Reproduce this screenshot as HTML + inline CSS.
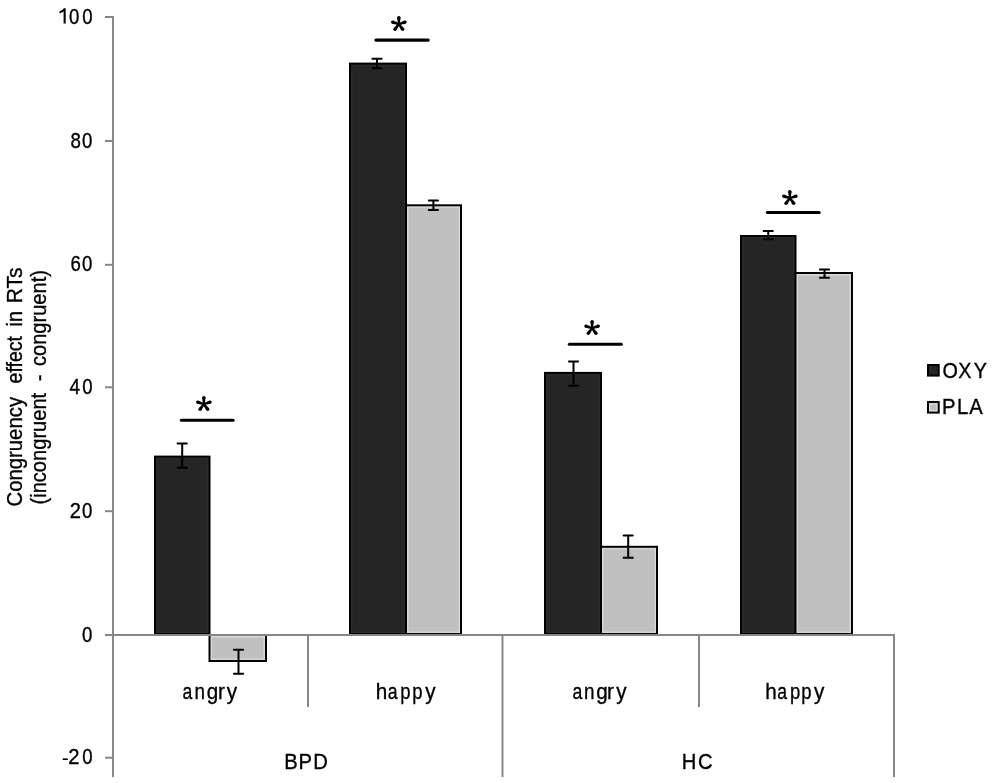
<!DOCTYPE html>
<html><head><meta charset="utf-8">
<style>
html,body{margin:0;padding:0;background:#fff;overflow:hidden;}
svg{display:block;filter:grayscale(1);}
text{font-family:"Liberation Sans",sans-serif;fill:#000;stroke:#000;stroke-width:0.35px;}
.lb{font-size:22px;letter-spacing:0.7px;}
.num{letter-spacing:0;}
.ttl{letter-spacing:0px;}
.lt{letter-spacing:0;}
.ast{font-size:44px;}
</style></head>
<body>
<svg width="992" height="783" viewBox="0 0 992 783">
<rect width="992" height="783" fill="#fff"/>
<g>
<path d="M65.7 8.30V23.60H63.6V11.20C62.6 12.10 61.1 12.90 59.5 13.40V11.40C61.4 10.60 62.9 9.50 63.9 8.30Z" fill="#000"/>
<text transform="translate(74.25,23.6) scale(0.846,1)" text-anchor="middle" class="lb num">0</text>
<text transform="translate(87.35,23.6) scale(0.846,1)" text-anchor="middle" class="lb num">0</text>
<text transform="translate(75.65,147.6) scale(0.853,1)" text-anchor="middle" class="lb num">8</text>
<text transform="translate(87.25,147.6) scale(0.846,1)" text-anchor="middle" class="lb num">0</text>
<text transform="translate(75.55,271.4) scale(0.847,1)" text-anchor="middle" class="lb num">6</text>
<text transform="translate(87.25,271.4) scale(0.846,1)" text-anchor="middle" class="lb num">0</text>
<text transform="translate(74.85,393.9) scale(0.866,1)" text-anchor="middle" class="lb num">4</text>
<text transform="translate(87.35,393.9) scale(0.846,1)" text-anchor="middle" class="lb num">0</text>
<text transform="translate(75.35,517.8) scale(0.92,1)" text-anchor="middle" class="lb num">2</text>
<text transform="translate(87.25,517.8) scale(0.846,1)" text-anchor="middle" class="lb num">0</text>
<text transform="translate(87.15,641.6) scale(0.846,1)" text-anchor="middle" class="lb num">0</text>
<rect x="62.7" y="758.40" width="5.1" height="1.6" fill="#000"/>
<text transform="translate(73.85,764.3) scale(0.92,1)" text-anchor="middle" class="lb num">2</text>
<text transform="translate(87.35,764.3) scale(0.846,1)" text-anchor="middle" class="lb num">0</text>
<text transform="translate(21.5,285.45) rotate(-90) scale(0.955,1)" text-anchor="middle" class="lb ttl">RTs</text>
<text transform="translate(21.5,318.8) rotate(-90) scale(0.9,1)" text-anchor="middle" class="lb ttl">in</text>
<text transform="translate(21.5,359.75) rotate(-90) scale(0.89,1)" text-anchor="middle" class="lb ttl">effect</text>
<text transform="translate(21.5,451.75) rotate(-90) scale(0.924,1)" text-anchor="middle" class="lb ttl">Congruency</text>
<text transform="translate(46,318.05) rotate(-90) scale(0.914,1)" text-anchor="middle" class="lb ttl">congruent)</text>
<text transform="translate(46,377.95) rotate(-90) scale(0.914,1)" text-anchor="middle" class="lb ttl">-</text>
<text transform="translate(46,448.65) rotate(-90) scale(0.914,1)" text-anchor="middle" class="lb ttl">(incongruent</text>
<text transform="translate(187.48,698.5) scale(0.8,1)" text-anchor="middle" class="lb lt">a</text>
<text transform="translate(199.84,698.5) scale(0.86,1)" text-anchor="middle" class="lb lt">n</text>
<text transform="translate(212.58,698.5) scale(0.94,1)" text-anchor="middle" class="lb lt">g</text>
<text transform="translate(221.49,698.5) scale(0.94,1)" text-anchor="middle" class="lb lt">r</text>
<text transform="translate(231.89,698.5) scale(0.94,1)" text-anchor="middle" class="lb lt">y</text>
<text transform="translate(381.45,698.5) scale(0.94,1)" text-anchor="middle" class="lb lt">h</text>
<text transform="translate(392.6,698.5) scale(0.8,1)" text-anchor="middle" class="lb lt">a</text>
<text transform="translate(405.29,698.5) scale(0.84,1)" text-anchor="middle" class="lb lt">p</text>
<text transform="translate(417.34,698.5) scale(0.84,1)" text-anchor="middle" class="lb lt">p</text>
<text transform="translate(430.44,698.5) scale(0.94,1)" text-anchor="middle" class="lb lt">y</text>
<text transform="translate(577.33,698.5) scale(0.8,1)" text-anchor="middle" class="lb lt">a</text>
<text transform="translate(589.14,698.5) scale(0.86,1)" text-anchor="middle" class="lb lt">n</text>
<text transform="translate(601.93,698.5) scale(0.94,1)" text-anchor="middle" class="lb lt">g</text>
<text transform="translate(610.54,698.5) scale(0.94,1)" text-anchor="middle" class="lb lt">r</text>
<text transform="translate(621.44,698.5) scale(0.94,1)" text-anchor="middle" class="lb lt">y</text>
<text transform="translate(770.9,698.5) scale(0.94,1)" text-anchor="middle" class="lb lt">h</text>
<text transform="translate(782.03,698.5) scale(0.8,1)" text-anchor="middle" class="lb lt">a</text>
<text transform="translate(795.04,698.5) scale(0.84,1)" text-anchor="middle" class="lb lt">p</text>
<text transform="translate(806.34,698.5) scale(0.84,1)" text-anchor="middle" class="lb lt">p</text>
<text transform="translate(819.24,698.5) scale(0.94,1)" text-anchor="middle" class="lb lt">y</text>
<text transform="translate(291.05,769) scale(0.92,1)" text-anchor="middle" class="lb lt">B</text>
<text transform="translate(305.35,769) scale(0.92,1)" text-anchor="middle" class="lb lt">P</text>
<text transform="translate(320.5,769) scale(0.92,1)" text-anchor="middle" class="lb lt">D</text>
<text transform="translate(689.1,769) scale(0.92,1)" text-anchor="middle" class="lb lt">H</text>
<text transform="translate(705.27,769) scale(0.92,1)" text-anchor="middle" class="lb lt">C</text>
<text transform="translate(950.3,378.2) scale(0.9,1)" text-anchor="middle" class="lb lt">O</text>
<text transform="translate(964.79,378.2) scale(0.9,1)" text-anchor="middle" class="lb lt">X</text>
<text transform="translate(980.4,378.2) scale(0.9,1)" text-anchor="middle" class="lb lt">Y</text>
<text transform="translate(948.75,413.6) scale(0.92,1)" text-anchor="middle" class="lb lt">P</text>
<text transform="translate(962.51,413.6) scale(0.92,1)" text-anchor="middle" class="lb lt">L</text>
<text transform="translate(976.05,413.6) scale(0.92,1)" text-anchor="middle" class="lb lt">A</text>
<rect x="154" y="455.6" width="56.5" height="179.39999999999998" fill="#000"/>
<rect x="156" y="457.6" width="52.5" height="175.39999999999998" fill="#2c2c2c"/>
<rect x="157.5" y="459.1" width="49.5" height="172.39999999999998" fill="#252525"/>
<rect x="208.5" y="634" width="58.5" height="28" fill="#000"/>
<rect x="210.5" y="636" width="54.5" height="24" fill="#d8d8d8"/>
<rect x="212.0" y="637.5" width="51.5" height="21.0" fill="#c0c0c0"/>
<rect x="349" y="62.6" width="58" height="572.4" fill="#000"/>
<rect x="351" y="64.6" width="54" height="568.4" fill="#2c2c2c"/>
<rect x="352.5" y="66.1" width="51.0" height="565.4" fill="#252525"/>
<rect x="405" y="204.3" width="57" height="430.7" fill="#000"/>
<rect x="407" y="206.3" width="53" height="426.7" fill="#d8d8d8"/>
<rect x="408.5" y="207.8" width="50.0" height="423.7" fill="#c0c0c0"/>
<rect x="544" y="371.9" width="58" height="263.1" fill="#000"/>
<rect x="546" y="373.9" width="54" height="259.1" fill="#2c2c2c"/>
<rect x="547.5" y="375.4" width="51.0" height="256.1" fill="#252525"/>
<rect x="600" y="545.8" width="58" height="89.20000000000005" fill="#000"/>
<rect x="602" y="547.8" width="54" height="85.20000000000005" fill="#d8d8d8"/>
<rect x="603.5" y="549.3" width="51.0" height="82.20000000000005" fill="#c0c0c0"/>
<rect x="740" y="235" width="56.5" height="400" fill="#000"/>
<rect x="742" y="237" width="52.5" height="396" fill="#2c2c2c"/>
<rect x="743.5" y="238.5" width="49.5" height="393.0" fill="#252525"/>
<rect x="794.5" y="272" width="58.5" height="363" fill="#000"/>
<rect x="796.5" y="274" width="54.5" height="359" fill="#d8d8d8"/>
<rect x="798.0" y="275.5" width="51.5" height="356.0" fill="#c0c0c0"/>
<g fill="#878787">
<rect x="112" y="16" width="2" height="761"/>
<rect x="105" y="16.0" width="7" height="2"/>
<rect x="105" y="140.0" width="7" height="2"/>
<rect x="105" y="263.8" width="7" height="2"/>
<rect x="105" y="386.3" width="7" height="2"/>
<rect x="105" y="510.2" width="7" height="2"/>
<rect x="105" y="756.7" width="7" height="2"/>
<rect x="105" y="634" width="790" height="2"/>
<rect x="307" y="634" width="2" height="73"/>
<rect x="501.5" y="634" width="2" height="143"/>
<rect x="698" y="634" width="2" height="73"/>
<rect x="893" y="634" width="2" height="143"/>
</g>
<g stroke="#000" stroke-width="2" fill="none" stroke-linecap="round">
<path d="M182.2 443.5V467.8M177.60 443.5h9.2M177.60 467.8h9.2"/>
<path d="M238.5 649.7V673.8M233.90 649.7h9.2M233.90 673.8h9.2"/>
<path d="M377 58.8V68.2M372.40 58.8h9.2M372.40 68.2h9.2"/>
<path d="M433.4 200.5V210M428.80 200.5h9.2M428.80 210h9.2"/>
<path d="M573.5 361.4V385.7M568.90 361.4h9.2M568.90 385.7h9.2"/>
<path d="M628.2 535.5V557.8M623.60 535.5h9.2M623.60 557.8h9.2"/>
<path d="M768.25 231V239.2M763.65 231h9.2M763.65 239.2h9.2"/>
<path d="M824.5 269.5V277.7M819.90 269.5h9.2M819.90 277.7h9.2"/>
</g>
<g stroke="#000" stroke-width="3.1" stroke-linecap="round">
<path d="M181.4 420.2H233.1"/>
<path d="M375.9 40.1H428.2"/>
<path d="M569.4 344.3H621.3"/>
<path d="M767.4 212.5H819.2"/>
</g>
<g fill="#000">
<circle cx="203.85" cy="397.60" r="1.7"/>
<circle cx="197.67" cy="402.09" r="1.7"/>
<circle cx="200.03" cy="409.36" r="1.7"/>
<circle cx="207.67" cy="409.36" r="1.7"/>
<circle cx="210.03" cy="402.09" r="1.7"/>
<path d="M204.85 404.10L205.55 397.60L202.15 397.60L202.85 404.10ZM204.16 403.15L198.19 400.47L197.14 403.71L203.54 405.05ZM203.04 403.51L198.65 408.36L201.40 410.36L204.66 404.69ZM203.04 404.69L206.30 410.36L209.05 408.36L204.66 403.51ZM204.16 405.05L210.56 403.71L209.51 400.47L203.54 403.15Z"/>
<circle cx="398.85" cy="17.60" r="1.7"/>
<circle cx="392.67" cy="22.09" r="1.7"/>
<circle cx="395.03" cy="29.36" r="1.7"/>
<circle cx="402.67" cy="29.36" r="1.7"/>
<circle cx="405.03" cy="22.09" r="1.7"/>
<path d="M399.85 24.10L400.55 17.60L397.15 17.60L397.85 24.10ZM399.16 23.15L393.19 20.47L392.14 23.71L398.54 25.05ZM398.04 23.51L393.65 28.36L396.40 30.36L399.66 24.69ZM398.04 24.69L401.30 30.36L404.05 28.36L399.66 23.51ZM399.16 25.05L405.56 23.71L404.51 20.47L398.54 23.15Z"/>
<circle cx="592.10" cy="321.60" r="1.7"/>
<circle cx="585.92" cy="326.09" r="1.7"/>
<circle cx="588.28" cy="333.36" r="1.7"/>
<circle cx="595.92" cy="333.36" r="1.7"/>
<circle cx="598.28" cy="326.09" r="1.7"/>
<path d="M593.10 328.10L593.80 321.60L590.40 321.60L591.10 328.10ZM592.41 327.15L586.44 324.47L585.39 327.71L591.79 329.05ZM591.29 327.51L586.90 332.36L589.65 334.36L592.91 328.69ZM591.29 328.69L594.55 334.36L597.30 332.36L592.91 327.51ZM592.41 329.05L598.81 327.71L597.76 324.47L591.79 327.15Z"/>
<circle cx="789.85" cy="191.60" r="1.7"/>
<circle cx="783.67" cy="196.09" r="1.7"/>
<circle cx="786.03" cy="203.36" r="1.7"/>
<circle cx="793.67" cy="203.36" r="1.7"/>
<circle cx="796.03" cy="196.09" r="1.7"/>
<path d="M790.85 198.10L791.55 191.60L788.15 191.60L788.85 198.10ZM790.16 197.15L784.19 194.47L783.14 197.71L789.54 199.05ZM789.04 197.51L784.65 202.36L787.40 204.36L790.66 198.69ZM789.04 198.69L792.30 204.36L795.05 202.36L790.66 197.51ZM790.16 199.05L796.56 197.71L795.51 194.47L789.54 197.15Z"/>
</g>
<rect x="927" y="364" width="12.7" height="12.6" fill="#000"/><rect x="929" y="366" width="8.7" height="8.6" fill="#252525"/>
<rect x="927" y="401" width="12.7" height="12.6" fill="#000"/><rect x="929" y="403" width="8.7" height="8.6" fill="#d8d8d8"/><rect x="930.5" y="404.5" width="5.7" height="5.6" fill="#c0c0c0"/>
</g>
</svg>
</body></html>
